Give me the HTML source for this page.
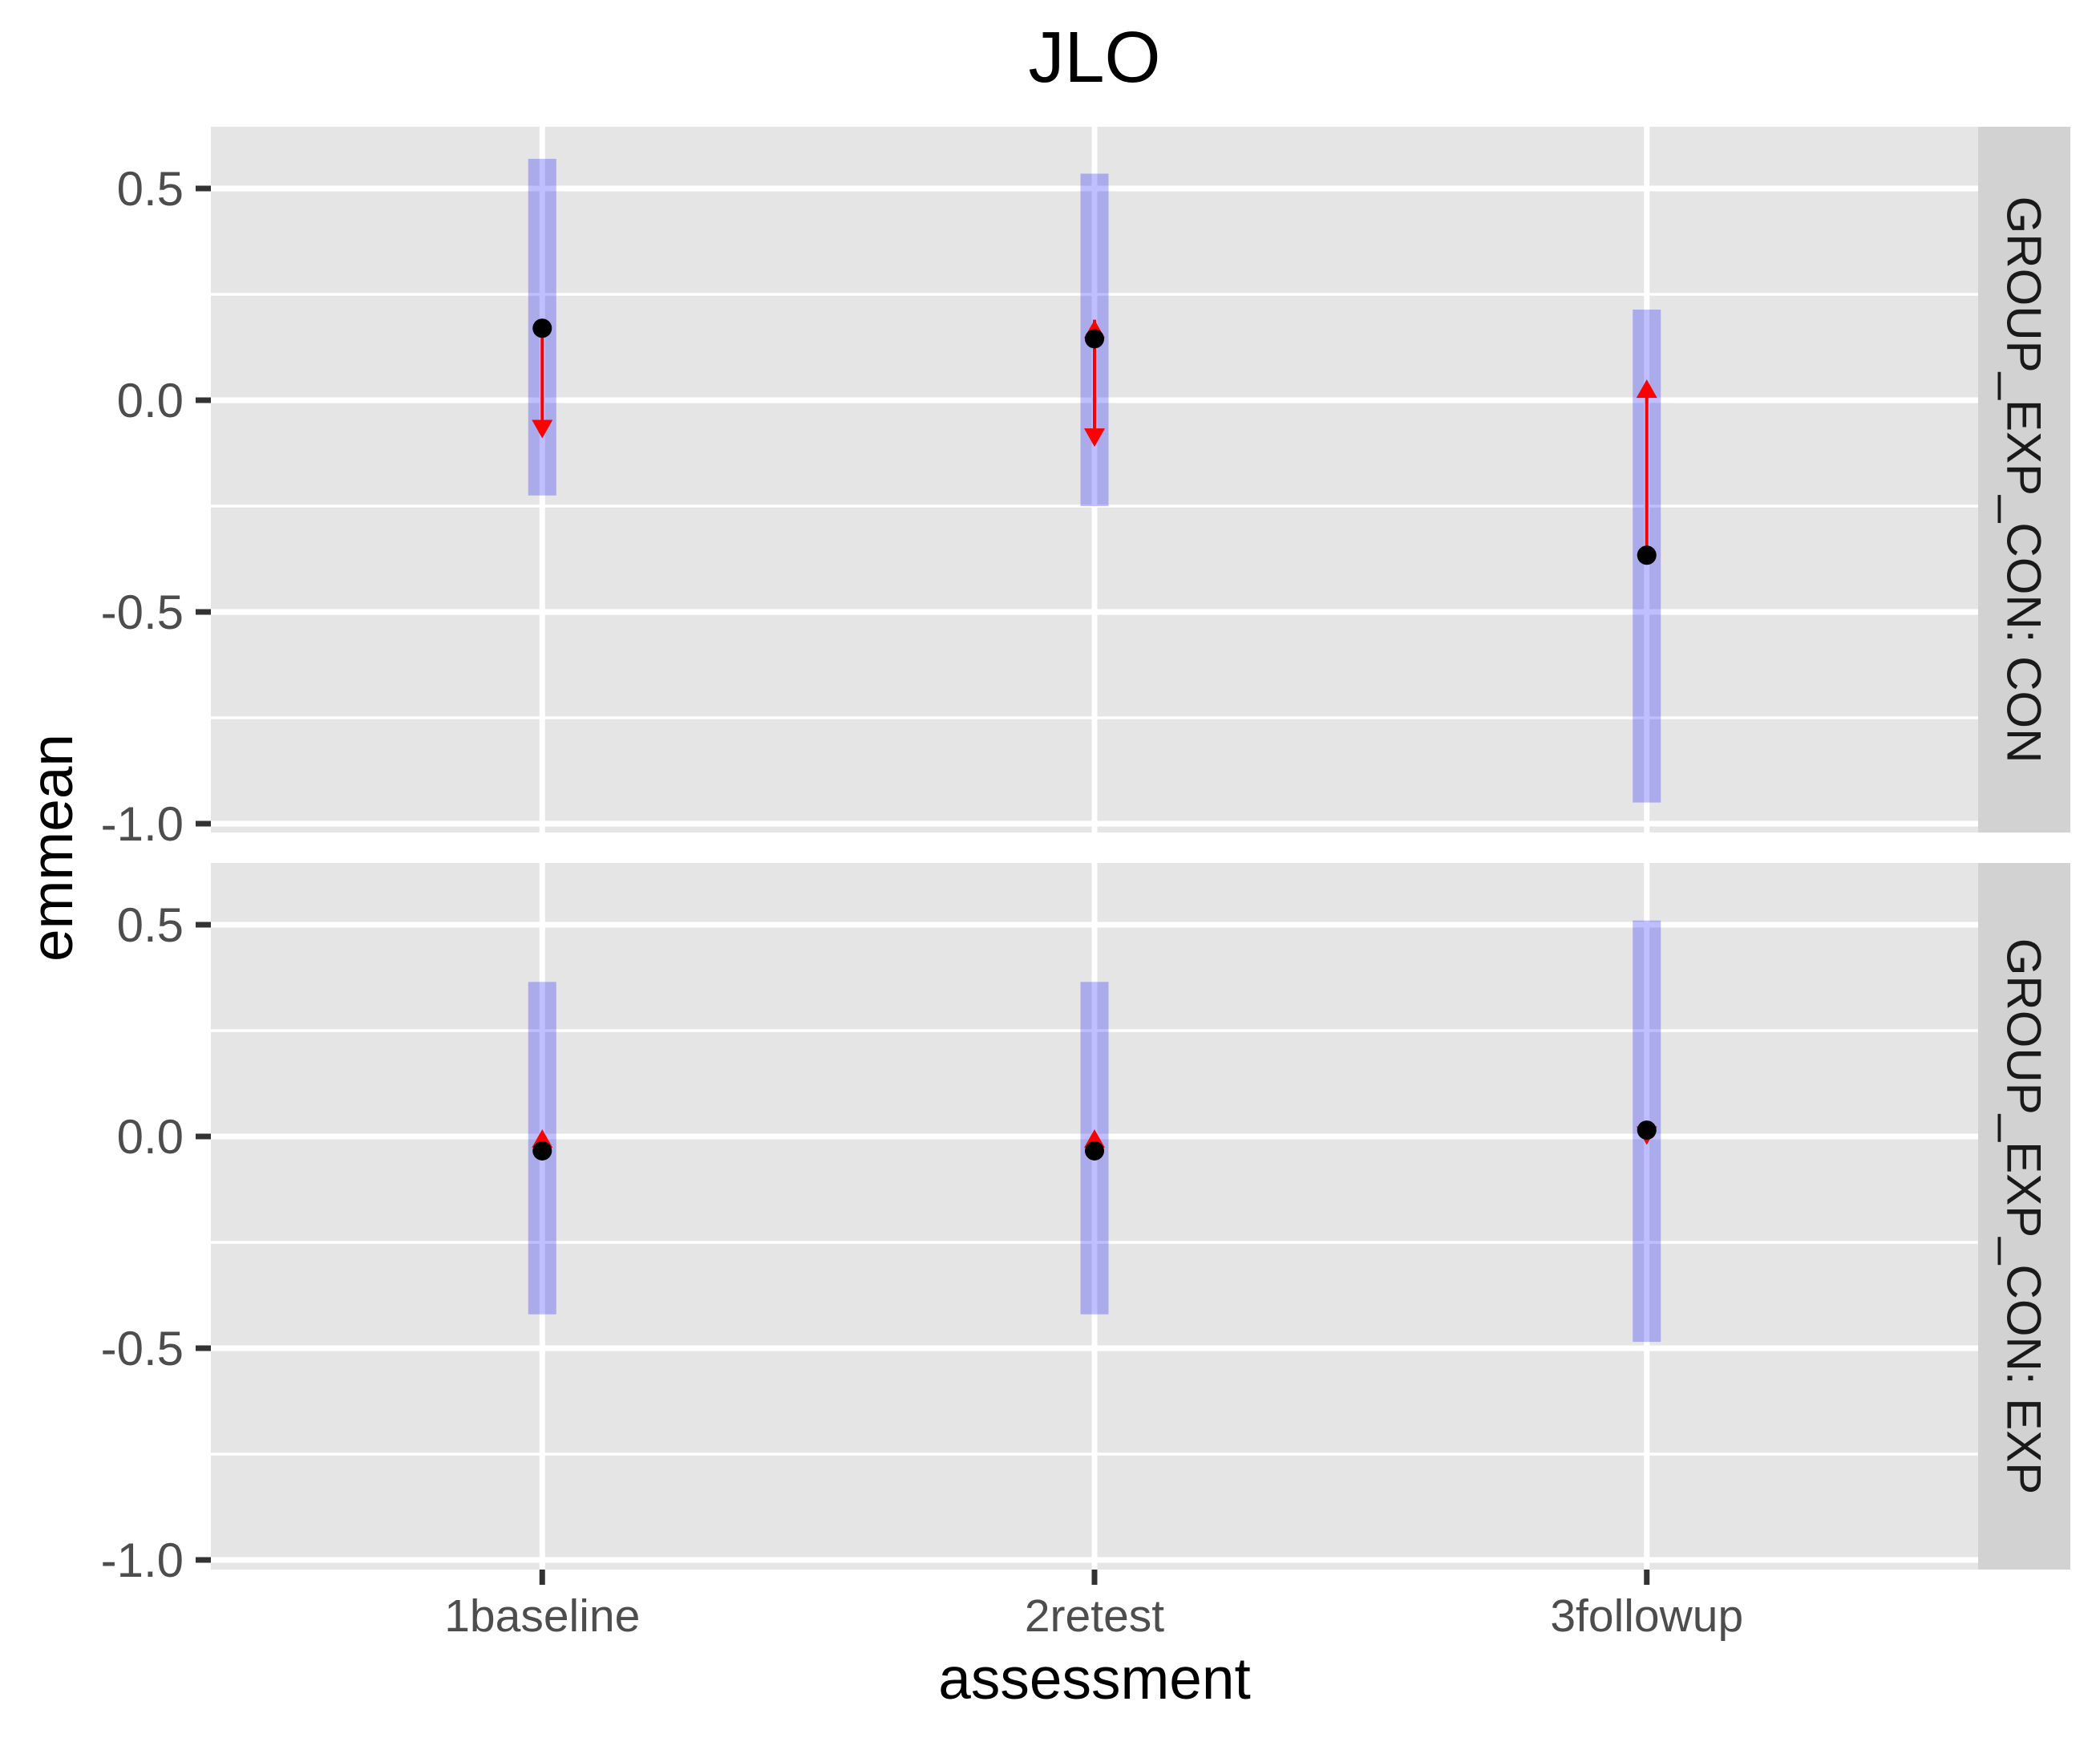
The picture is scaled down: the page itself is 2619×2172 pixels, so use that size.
<!DOCTYPE html>
<html><head><meta charset="utf-8"><style>
html,body{margin:0;padding:0;background:#fff;}
svg{display:block;font-family:"Liberation Sans",Arial,sans-serif;}
</style></head><body>
<svg id="chart" width="2619" height="2172" viewBox="0 0 2619 2172" xmlns="http://www.w3.org/2000/svg">
<text x="1365" y="102" font-size="90" text-anchor="middle" fill="#000">JLO</text>
<text x="1365" y="2118" font-size="73" text-anchor="middle" fill="#000">assessment</text>
<text transform="translate(90,1057) rotate(-90)" font-size="73" text-anchor="middle" fill="#000">emmean</text>
<g id="plot"></g>
</svg>
<script>
const categories = ["1baseline", "2retest", "3followup"];
const panels = ["GROUP_EXP_CON: CON", "GROUP_EXP_CON: EXP"];
const yTicks = [0.5, 0.0, -0.5, -1.0];
const yTickLabels = ["0.5", "0.0", "-0.5", "-1.0"];
const yMinor = [0.25, -0.25, -0.75];
const emmeanCON = [0.17, 0.145, -0.366];
const lowerCON = [-0.225, -0.25, -0.95];
const upperCON = [0.57, 0.535, 0.214];
const arrowEndCON = [-0.09, -0.11, 0.049];
const arrowStartCON = [0.17, 0.19, -0.366];
const emmeanEXP = [-0.034, -0.034, 0.015];
const lowerEXP = [-0.42, -0.42, -0.485];
const upperEXP = [0.365, 0.365, 0.51];
const arrowEndEXP = [0.017, 0.017, -0.02];
const arrowStartEXP = [-0.034, -0.034, 0.015];

const NS = "http://www.w3.org/2000/svg";
const g = document.getElementById("plot");
const L = 263, R = 2467, SR = 2582;
const panelTops = [158, 1076], panelBots = [1038, 1957], zeroY = [499, 1417];
const PPU = 528;
function xPos(i){ return L + (i + 1 - 0.4) / 3.2 * (R - L); }
function yPos(p, v){ return zeroY[p] - v * PPU; }
function mk(tag, attrs, parent){
  const e = document.createElementNS(NS, tag);
  for (const k in attrs) e.setAttribute(k, attrs[k]);
  (parent || g).appendChild(e);
  return e;
}
function arrowHead(p, x, vFrom, vTo, name){
  const fy = yPos(p, vFrom), ty = yPos(p, vTo);
  const dir = ty > fy ? 1 : -1;
  const h = mk("polygon", {points: `${x},${ty} ${x-13},${ty - dir*23} ${x+13},${ty - dir*23}`, fill: "#ff0000"});
  
  
}
const data = [
  {em: emmeanCON, lo: lowerCON, up: upperCON, a0: arrowStartCON, a1: arrowEndCON},
  {em: emmeanEXP, lo: lowerEXP, up: upperEXP, a0: arrowStartEXP, a1: arrowEndEXP}
];
for (let p = 0; p < 2; p++){
  const T = panelTops[p], B = panelBots[p];
  const bg = mk("rect", {x: L, y: T, width: R - L, height: B - T, fill: "#e5e5e5"});
  
  
  yMinor.forEach(v => {
    const ln = mk("line", {x1: L, x2: R, y1: yPos(p, v), y2: yPos(p, v), stroke: "#fff", "stroke-width": 3.5});
    
    
  });
  yTicks.forEach((v, i) => {
    const y = yPos(p, v);
    const ln = mk("line", {x1: L, x2: R, y1: y, y2: y, stroke: "#fff", "stroke-width": 7});
    
    
    const tk = mk("line", {x1: L - 19, x2: L, y1: y, y2: y, stroke: "#333", "stroke-width": 7});
    
    
    const t = mk("text", {x: L - 34, y: y + 21, "font-size": 60, "text-anchor": "end", fill: "#4d4d4d"});
    t.textContent = yTickLabels[i];
    
    
  });
  categories.forEach((c, i) => {
    const ln = mk("line", {x1: xPos(i), x2: xPos(i), y1: T, y2: B, stroke: "#fff", "stroke-width": 7});
    
    
  });
  const d = data[p];
  categories.forEach((c, i) => {
    const x = xPos(i);
    const yt = yPos(p, d.up[i]), yb = yPos(p, d.lo[i]);
    const ci = mk("rect", {x: x - 17.5, y: yt, width: 35, height: yb - yt, fill: "rgba(0,0,255,0.25)"});
    
    
    const ye = yPos(p, d.a1[i]), ys = yPos(p, d.a0[i]);
    const dir1 = ye > yPos(p, d.em[i]) ? 1 : -1;
    const ar = mk("line", {x1: x, x2: x, y1: ys, y2: ye - dir1 * 18, stroke: "#ff0000", "stroke-width": 4});
    
    
    arrowHead(p, x, d.em[i], d.a1[i], 'arrow-head-' + c);
    if (d.a0[i] !== d.em[i]) arrowHead(p, x, d.em[i], d.a0[i], 'arrow-head-start-' + c);
    const pt = mk("circle", {cx: x, cy: yPos(p, d.em[i]), r: 12, fill: "#000"});
    
    
  });
  const st = mk("rect", {x: R, y: T, width: SR - R, height: B - T, fill: "#d2d2d2"});
  
  
  const cy = (T + B) / 2;
  const stt = mk("text", {transform: `translate(${(R + SR) / 2 - 21},${cy}) rotate(90)`, "font-size": 60, "text-anchor": "middle", fill: "#1a1a1a"});
  stt.textContent = panels[p];
  
  
}
categories.forEach((c, i) => {
  const x = xPos(i);
  const tk = mk("line", {x1: x, x2: x, y1: 1957, y2: 1976, stroke: "#333", "stroke-width": 7});
  
  
  const t = mk("text", {x: x, y: 2034, "font-size": 57, "text-anchor": "middle", fill: "#4d4d4d"});
  t.textContent = c;
  
  
});
</script>
</body></html>
